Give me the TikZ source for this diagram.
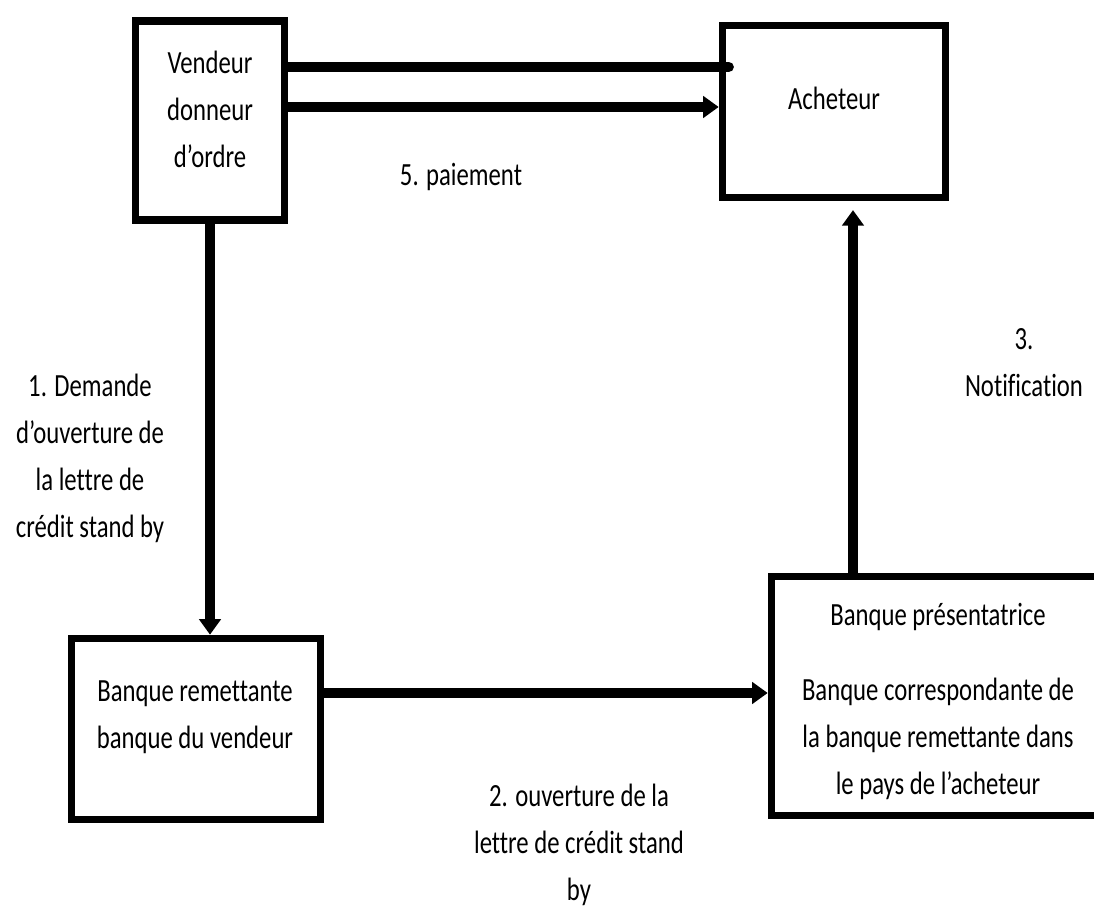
\documentclass[tikz,border=0pt]{standalone}
\usepackage{fontspec}
\setmainfont{Carlito}[FakeStretch=0.764,Ligatures=NoCommon]
\usetikzlibrary{calc,fit,arrows.meta}
\tikzset{>={Triangle[width=15pt,length=11pt]}}
\tikzstyle{box}=[draw,line width=5.4pt,inner sep=0pt]
\tikzstyle{flow}=[->,line width=7.4pt]
\tikzstyle{txt}=[align=center,inner sep=0pt,font=\fontsize{23}{33.4}\selectfont]

\begin{document}
\begin{tikzpicture}[x=0.025cm,y=-0.025cm]
  \useasboundingbox (0,0) rectangle (1094,911);
  \clip (0,0) rectangle (1094,911);

  % BOXES
  \node[box,fit={(135.5,21) (284.5,220)}]  (vendeur) {};
  \node[box,fit={(722.5,25.5) (945.5,197.5)}] (acheteur) {};
  \node[box,fit={(71.5,638.5) (320.5,819.5)}] (remettante) {};
  \node[box,fit={(771.5,576.5) (1130,815.5)}] (presentatrice) {};

  % TEXTS
  \node[txt] (tvendeur) at (210,109) {Vendeur\\donneur\\d’ordre};
  \node[txt] (tacheteur) at (834,98) {Acheteur};
  \node[txt] (tremettante) at (195,717) {Banque remettante\\banque du vendeur};
  \node[txt] (tpres) at (938,617) {Banque présentatrice};
  \node[txt] (tcorr) at (938,739) {Banque correspondante de\\la banque remettante dans\\le pays de l’acheteur};

  % LEVELS
  \coordinate (y1) at (0,67);
  \coordinate (y2) at (0,107);
  \coordinate (y3) at (0,693);
  \coordinate (x4) at (853,0);

  % ARROWS
  \draw[flow,-,line cap=round] (vendeur.east |- y1) -- ($(acheteur.west |- y1)+(10,0)$);
  \draw[flow] (vendeur.east |- y2) -- (acheteur.west |- y2);
  \draw[flow] (vendeur.south) -- (vendeur.south |- remettante.north);
  \draw[flow] (remettante.east |- y3) -- (presentatrice.west |- y3);
  \draw[flow,shorten >=0.22cm] (presentatrice.north -| x4) -- (acheteur.south -| x4);

  % LABELS
  \node[txt] (lpaiement) at (461,177) {5. paiement};
  \node[txt] (ldemande) at (90,458) {1. Demande\\d’ouverture de\\la lettre de\\crédit stand by};
  \node[txt] (louverture) at (579,845) {2. ouverture de la\\lettre de crédit stand\\by};
  \node[txt] (lnotif) at (1024,363) {3.\\Notification};
\end{tikzpicture}
\end{document}
